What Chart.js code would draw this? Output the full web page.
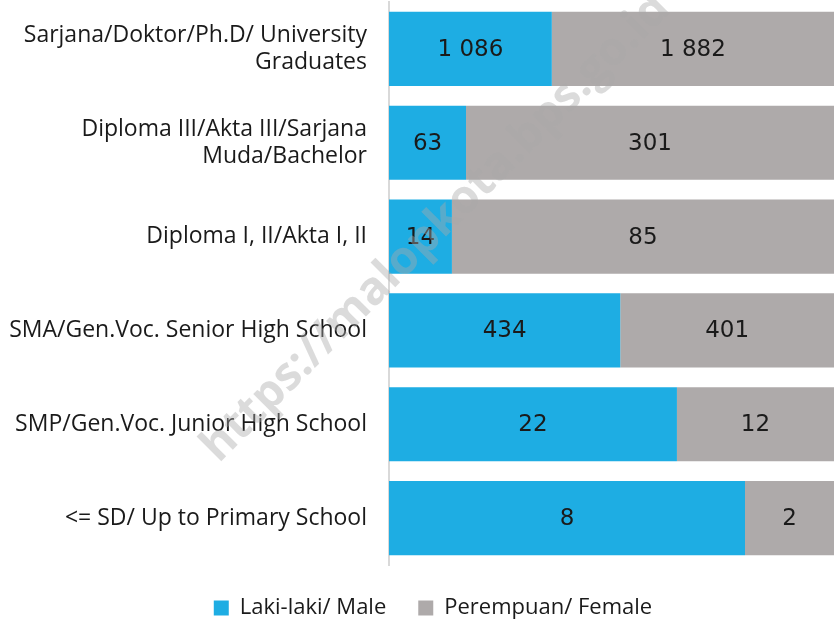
<!DOCTYPE html>
<html>
<head>
<meta charset="utf-8">
<script src="https://cdn.jsdelivr.net/npm/chart.js@4.4.1/dist/chart.umd.min.js"></script>
<style>
  html, body { margin: 0; padding: 0; background: #fff; }
  #wrap { width: 834px; height: 621px; position: relative; }
</style>
</head>
<body>
<div id="wrap"><canvas id="chart"></canvas></div>
<script>
const categories = [
  ['Sarjana/Doktor/Ph.D/ University', 'Graduates'],
  ['Diploma III/Akta III/Sarjana', 'Muda/Bachelor'],
  'Diploma I, II/Akta I, II',
  'SMA/Gen.Voc. Senior High School',
  'SMP/Gen.Voc. Junior High School',
  '<= SD/ Up to Primary School'
];
const male = [1086, 63, 14, 434, 22, 8];
const female = [1882, 301, 85, 401, 12, 2];
const seriesNames = ['Laki-laki/ Male', 'Perempuan/ Female'];
const watermark = 'https://malopkota.bps.go.id';

// bars are shares of each row total (100% stacked)
const totals = male.map((m, i) => m + female[i]);
const pct = arr => arr.map((v, i) => v / totals[i] * 100);

const fmt = n => String(n).replace(/\B(?=(\d{3})+(?!\d))/g, ' ');

const valueLabels = {
  id: 'valueLabels',
  afterDatasetsDraw(chart) {
    const ctx = chart.ctx;
    ctx.save();
    ctx.font = '23px "DejaVu Sans", sans-serif';
    ctx.fillStyle = '#1a1a1a';
    ctx.textAlign = 'center';
    ctx.textBaseline = 'middle';
    const raw = [male, female];
    chart.data.datasets.forEach((ds, di) => {
      chart.getDatasetMeta(di).data.forEach((bar, i) => {
        const x = (bar.x + bar.base) / 2;
        ctx.fillText(fmt(raw[di][i]), x, bar.y + 1);
      });
    });
    ctx.restore();
  }
};

const mark = {
  id: 'mark',
  afterDraw(chart) {
    const ctx = chart.ctx;
    ctx.save();
    ctx.translate(436, 228);
    ctx.rotate(-Math.PI / 4);
    ctx.font = 'bold 46px "Open Sans", sans-serif';
    ctx.fillStyle = 'rgba(170,170,170,0.42)';
    ctx.textAlign = 'center';
    ctx.textBaseline = 'middle';
    ctx.fillText(watermark, 0, 0);
    ctx.restore();
  }
};

// legend keeps wide gaps between items but takes less height
const legendFit = {
  id: 'legendFit',
  beforeLayout(chart) {
    const lg = chart.legend;
    if (lg && !lg._patched) {
      const fit = lg.fit.bind(lg);
      lg.fit = function () { fit(); this.height = 56; };
      lg._patched = true;
    }
  },
  afterLayout(chart) {
    if (chart.legend) {
      chart.legend.left += 32;
    }
  }
};

new Chart(document.getElementById('chart'), {
  type: 'bar',
  data: {
    labels: categories,
    datasets: [
      { label: seriesNames[0], data: pct(male), backgroundColor: '#1EADE3' },
      { label: seriesNames[1], data: pct(female), backgroundColor: '#AEAAAA' }
    ]
  },
  options: {
    indexAxis: 'y',
    responsive: true,
    maintainAspectRatio: false,
    animation: false,
    layout: { padding: { top: 2, right: 0, left: 0, bottom: 0 } },
    datasets: { bar: { categoryPercentage: 1, barPercentage: 0.79 } },
    scales: {
      x: {
        stacked: true,
        min: 0,
        max: 100,
        display: false
      },
      y: {
        stacked: true,
        grid: { display: false, drawTicks: false },
        border: { display: true, color: '#d9d9d9', width: 2 },
        ticks: {
          color: '#1a1a1a',
          padding: 22,
          font: { family: '"Open Sans", sans-serif', size: 23, lineHeight: 1.18 }
        },
        afterFit(scale) {
          scale.width = 389;
          scale.paddingTop = 0;
          scale.paddingBottom = 0;
        }
      }
    },
    plugins: {
      legend: {
        position: 'bottom',
        labels: {
          color: '#1a1a1a',
          boxWidth: 15,
          boxHeight: 15,
          padding: 32,
          font: { family: '"Open Sans", sans-serif', size: 22 }
        }
      },
      tooltip: { enabled: false }
    }
  },
  plugins: [valueLabels, mark, legendFit]
});
</script>
</body>
</html>
